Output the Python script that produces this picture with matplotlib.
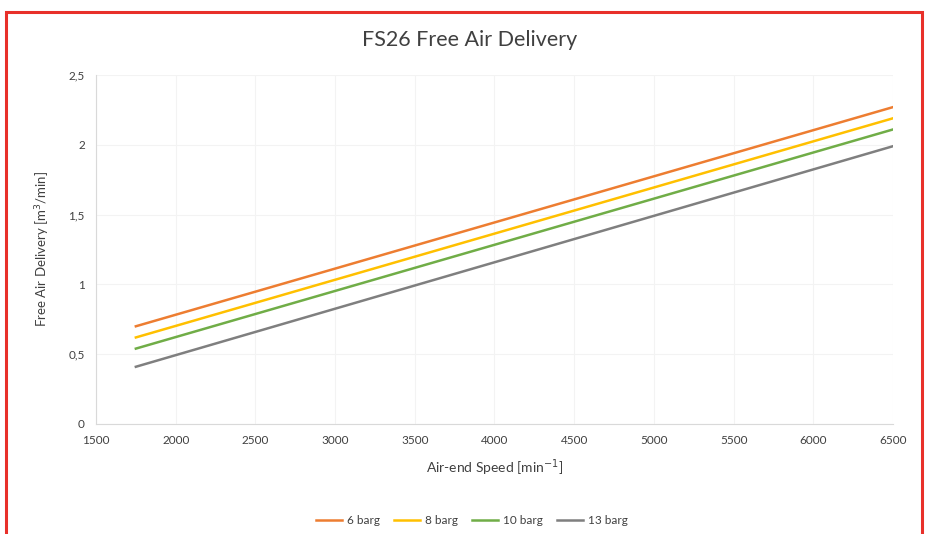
import matplotlib.pyplot as plt
from matplotlib.patches import Rectangle

# air-end speed (min^-1) at start and end of each line
speed = [1750, 6500]

# free air delivery (m3/min) per pressure
fad_6 = [0.70, 2.27]
fad_8 = [0.62, 2.19]
fad_10 = [0.54, 2.11]
fad_13 = [0.41, 1.99]

labels = ['6 barg', '8 barg', '10 barg', '13 barg']
colors = ['#ed7d31', '#ffc000', '#70ad47', '#7f7f7f']

xticks = [1500, 2000, 2500, 3000, 3500, 4000, 4500, 5000, 5500, 6000, 6500]
yticks = [0, 0.5, 1, 1.5, 2, 2.5]
ytick_labels = ['0', '0,5', '1', '1,5', '2', '2,5']

plt.rcParams['font.family'] = ['Lato', 'DejaVu Sans']

fig = plt.figure(figsize=(9.29, 5.34), dpi=100)
ax = fig.add_axes([96 / 929, 1 - 424 / 534, (893 - 96) / 929, (424 - 75) / 534])

for ys, lab, c in zip([fad_6, fad_8, fad_10, fad_13], labels, colors):
    ax.plot(speed, ys, color=c, lw=1.8, label=lab)

ax.set_xlim(1500, 6500)
ax.set_ylim(0, 2.5)
ax.set_xticks(xticks)
ax.set_yticks(yticks)
ax.set_yticklabels(ytick_labels)
ax.tick_params(length=0, labelsize=8.5, colors='#404040', pad=8)
ax.grid(True, color='#f3f3f3', lw=0.8)
for s in ['top', 'right']:
    ax.spines[s].set_visible(False)
ax.spines['left'].set_color('#d9d9d9')
ax.spines['bottom'].set_color('#d9d9d9')

fig.suptitle('FS26 Free Air Delivery', x=0.505, y=1 - 40 / 534, va='center',
             fontsize=15.5, color='#404040')
ax.set_xlabel('Air-end Speed [min$^{-1}$]', fontsize=10, color='#404040', labelpad=8)
ax.set_ylabel('Free Air Delivery [m$^3$/min]', fontsize=9.5, color='#404040', labelpad=12)

fig.legend(loc='center', bbox_to_anchor=(0.508, 1 - 521 / 534), ncol=4, frameon=False,
           fontsize=8.5, handlelength=2.2, columnspacing=1.2, handletextpad=0.4,
           labelcolor='#404040')

# red frame round the chart
fig.patches.append(Rectangle((6 / 929, -0.05), (922 - 6) / 929, 1 - 12 / 534 + 0.05,
                             transform=fig.transFigure, fill=False,
                             edgecolor='#e8302a', lw=2.2, clip_on=False))

fig.savefig('out.png', dpi=100)
